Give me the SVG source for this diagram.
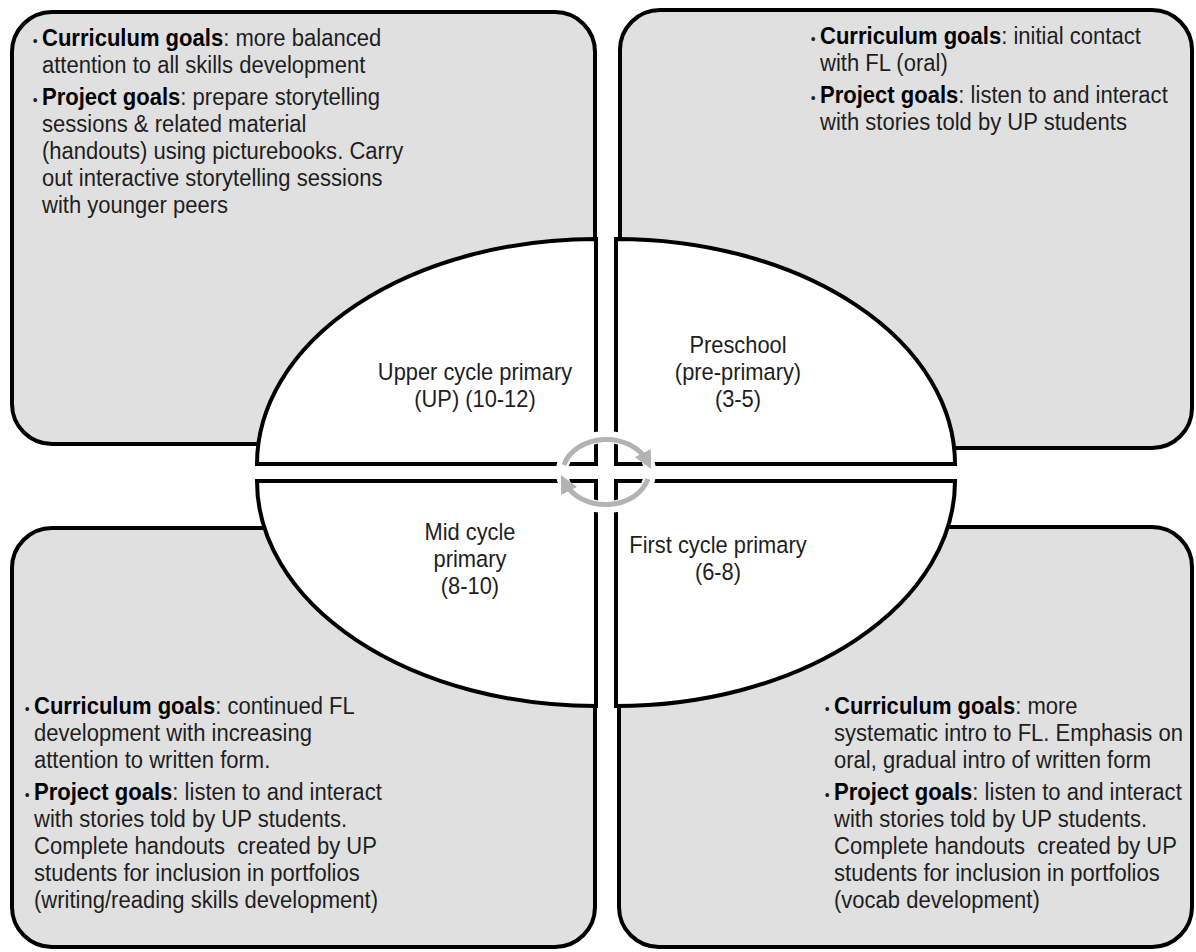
<svg xmlns="http://www.w3.org/2000/svg" width="1196" height="952" viewBox="0 0 1196 952">
<defs>
<style>
.box{fill:#e0e0e0;stroke:#000;stroke-width:4}
.quad{fill:#fff;stroke:#000;stroke-width:4;stroke-linejoin:miter}
.t{font-family:"Liberation Sans",Arial,sans-serif;font-size:23.7px;fill:#1e1e1e;white-space:pre}
.c{text-anchor:middle;font-size:23.5px}
.b{font-weight:bold;fill:#000}
.bul{font-size:15px}
</style>
<marker id="ah" viewBox="0 0 10 10" refX="5" refY="5" markerWidth="3.6" markerHeight="3.6" orient="auto" markerUnits="strokeWidth">
<path d="M0,0 L10,5 L0,10 z" fill="#b3b3b3"/>
</marker>
</defs>
<rect width="1196" height="952" fill="#fff"/>

<g id="box-tl">
<rect class="box" x="12" y="12" width="583" height="432" rx="40" ry="40"/>
<text class="t" transform="matrix(0.93,0,0,1,2.94,0)"><tspan x="32" y="46" class="bul">•</tspan><tspan x="42" y="46" class="b">Curriculum goals</tspan><tspan>: more balanced</tspan><tspan x="42" y="73">attention to all skills development</tspan><tspan x="32" y="105" class="bul">•</tspan><tspan x="42" y="105" class="b">Project goals</tspan><tspan>: prepare storytelling</tspan><tspan x="42" y="132">sessions &amp; related material</tspan><tspan x="42" y="159">(handouts) using picturebooks. Carry</tspan><tspan x="42" y="186">out interactive storytelling sessions</tspan><tspan x="42" y="213">with younger peers</tspan></text>
</g>

<g id="box-tr">
<rect class="box" x="620" y="10" width="572" height="438" rx="40" ry="40"/>
<text class="t" transform="matrix(0.93,0,0,1,57.4,0)"><tspan x="810" y="44" class="bul">•</tspan><tspan x="820" y="44" class="b">Curriculum goals</tspan><tspan>: initial contact</tspan><tspan x="820" y="71">with FL (oral)</tspan><tspan x="810" y="103" class="bul">•</tspan><tspan x="820" y="103" class="b">Project goals</tspan><tspan>: listen to and interact</tspan><tspan x="820" y="130">with stories told by UP students</tspan></text>
</g>

<g id="box-bl">
<rect class="box" x="12" y="528" width="583" height="419" rx="40" ry="40"/>
<text class="t" transform="matrix(0.93,0,0,1,2.38,0)"><tspan x="24" y="714" class="bul">•</tspan><tspan x="34" y="714" class="b">Curriculum goals</tspan><tspan>: continued FL</tspan><tspan x="34" y="741">development with increasing</tspan><tspan x="34" y="768">attention to written form.</tspan><tspan x="24" y="800" class="bul">•</tspan><tspan x="34" y="800" class="b">Project goals</tspan><tspan>: listen to and interact</tspan><tspan x="34" y="827">with stories told by UP students.</tspan><tspan x="34" y="854">Complete handouts  created by UP</tspan><tspan x="34" y="881">students for inclusion in portfolios</tspan><tspan x="34" y="908">(writing/reading skills development)</tspan></text>
</g>

<g id="box-br">
<rect class="box" x="619" y="527" width="573" height="420" rx="40" ry="40"/>
<text class="t" transform="matrix(0.93,0,0,1,58.38,0)"><tspan x="824" y="714" class="bul">•</tspan><tspan x="834" y="714" class="b">Curriculum goals</tspan><tspan>: more</tspan><tspan x="834" y="741">systematic intro to FL. Emphasis on</tspan><tspan x="834" y="768">oral, gradual intro of written form</tspan><tspan x="824" y="800" class="bul">•</tspan><tspan x="834" y="800" class="b">Project goals</tspan><tspan>: listen to and interact</tspan><tspan x="834" y="827">with stories told by UP students.</tspan><tspan x="834" y="854">Complete handouts  created by UP</tspan><tspan x="834" y="881">students for inclusion in portfolios</tspan><tspan x="834" y="908">(vocab development)</tspan></text>
</g>

<g id="quad-upper">
<path class="quad" d="M596,464 L257,464 A339,225 0 0 1 596,239 Z"/>
<text class="t c" transform="matrix(0.93,0,0,1,33.25,0)"><tspan x="475" y="380">Upper cycle primary</tspan><tspan x="475" y="407">(UP) (10-12)</tspan></text>
</g>
<g id="quad-preschool">
<path class="quad" d="M616,464 L616,239 A339,225 0 0 1 955,464 Z"/>
<text class="t c" transform="matrix(0.93,0,0,1,51.66,0)"><tspan x="738" y="353">Preschool</tspan><tspan x="738" y="380">(pre-primary)</tspan><tspan x="738" y="407">(3-5)</tspan></text>
</g>
<g id="quad-first">
<path class="quad" d="M616,481 L955,481 A339,225 0 0 1 616,706 Z"/>
<text class="t c" transform="matrix(0.93,0,0,1,50.26,0)"><tspan x="718" y="553">First cycle primary</tspan><tspan x="718" y="580">(6-8)</tspan></text>
</g>
<g id="quad-mid">
<path class="quad" d="M596,481 L596,706 A339,225 0 0 1 257,481 Z"/>
<text class="t c" transform="matrix(0.93,0,0,1,32.9,0)"><tspan x="470" y="540">Mid cycle</tspan><tspan x="470" y="567">primary</tspan><tspan x="470" y="594">(8-10)</tspan></text>
</g>

<g id="connectors">
<ellipse cx="606" cy="472" rx="44" ry="35" fill="none" stroke="#fff" stroke-width="12"/>
<path d="M564,465 A44,35 0 0 1 647,461" fill="none" stroke="#b3b3b3" stroke-width="5" marker-end="url(#ah)"/>
<path d="M648,479 A44,35 0 0 1 565,483" fill="none" stroke="#b3b3b3" stroke-width="5" marker-end="url(#ah)"/>
</g>
</svg>
